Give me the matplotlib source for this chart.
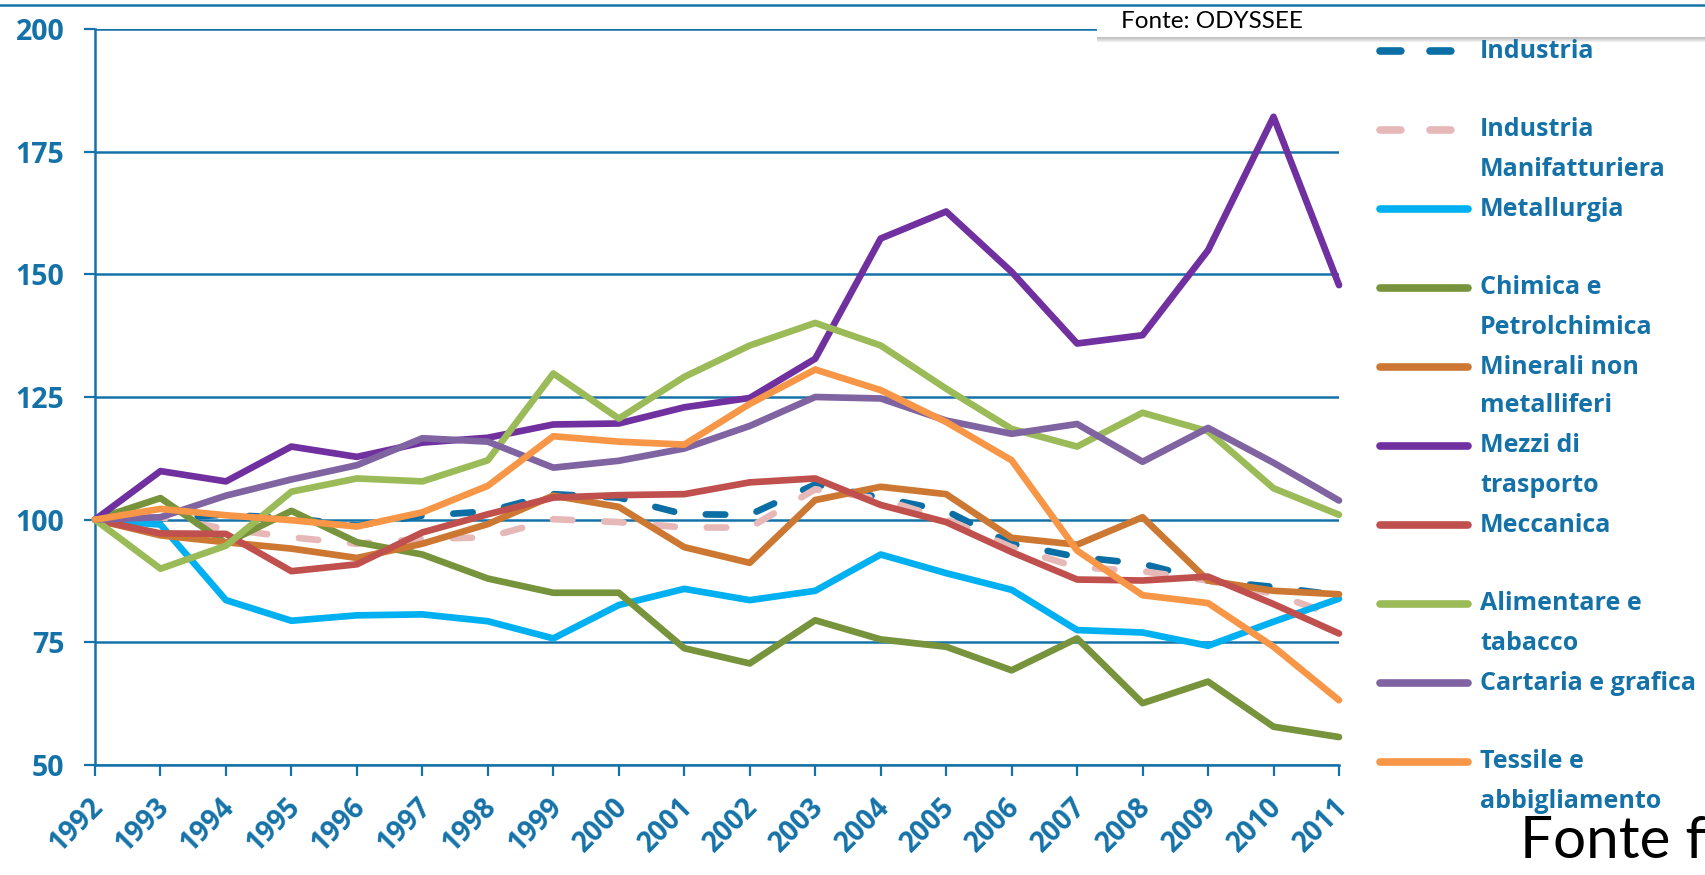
import matplotlib.pyplot as plt
from matplotlib.lines import Line2D
from matplotlib.patches import Rectangle
from matplotlib.transforms import ScaledTranslation

plt.rcParams['font.family'] = ['Open Sans', 'DejaVu Sans']
plt.rcParams['lines.scale_dashes'] = False

W, H = 1706, 875
BLU = '#1572A8'

anni = list(range(1992, 2012))

industria = [100, 100.3, 101.0, 100.3, 98.8, 100.8, 101.7, 105.2, 104.5, 101.1,
             101.0, 107.2, 104.5, 101.8, 95.1, 92.4, 91.0, 87.6, 86.3, 84.6]
manifatturiera = [100, 100.5, 98.1, 96.4, 95.1, 96.1, 96.4, 100.1, 99.5, 98.4,
                  98.4, 106.2, 104.2, 100.1, 94.4, 90.3, 89.5, 87.6, 84.9, 80.2]
metallurgia = [100, 99.0, 83.6, 79.4, 80.5, 80.7, 79.3, 75.8, 82.6, 85.9,
               83.6, 85.5, 92.9, 89.1, 85.7, 77.5, 77.0, 74.3, 79.2, 83.9]
chimica = [100, 104.4, 95.2, 101.8, 95.4, 92.9, 88.0, 85.1, 85.1, 73.8,
           70.7, 79.5, 75.6, 74.1, 69.3, 75.8, 62.6, 67.0, 57.8, 55.7]
minerali = [100, 96.8, 95.4, 94.1, 92.2, 95.1, 99.1, 104.9, 102.6, 94.4,
            91.2, 104.0, 106.7, 105.2, 96.3, 94.9, 100.5, 87.6, 85.5, 84.8]
mezzi = [100, 109.9, 107.8, 114.9, 112.8, 115.7, 116.7, 119.4, 119.6, 122.9,
         124.8, 132.8, 157.3, 162.8, 150.5, 135.9, 137.6, 154.9, 182.1, 147.8]
meccanica = [100, 97.2, 97.1, 89.5, 90.9, 97.4, 101.1, 104.5, 105.0, 105.2,
             107.6, 108.4, 103.0, 99.5, 93.4, 87.8, 87.6, 88.4, 82.8, 76.8]
alimentare = [100, 90.0, 94.7, 105.7, 108.4, 107.8, 112.1, 129.8, 120.6, 129.1,
              135.5, 140.1, 135.5, 126.7, 118.5, 114.9, 121.8, 118.0, 106.4, 101.0]
cartaria = [100, 100.5, 104.9, 108.2, 111.1, 116.6, 115.9, 110.6, 112.0, 114.5,
            119.1, 125.0, 124.7, 120.2, 117.5, 119.5, 111.8, 118.7, 111.6, 103.9]
tessile = [100, 102.2, 100.9, 99.9, 98.6, 101.5, 106.9, 117.0, 115.9, 115.3,
           123.6, 130.6, 126.4, 119.9, 112.1, 93.7, 84.6, 83.0, 74.1, 63.2]

serie = [industria, manifatturiera, metallurgia, chimica, minerali,
         mezzi, meccanica, alimentare, cartaria, tessile]
etichette = ['Industria', 'Industria\nManifatturiera', 'Metallurgia',
             'Chimica e\nPetrolchimica', 'Minerali non\nmetalliferi',
             'Mezzi di\ntrasporto', 'Meccanica', 'Alimentare e\ntabacco',
             'Cartaria e grafica', 'Tessile e\nabbigliamento']
colori = ['#0B6FA6', '#E6B9B8', '#00B0F0', '#77933C', '#CC7832',
          '#7030A0', '#C0504D', '#9BBB59', '#8064A2', '#F79646']
tratteggio = [True, True, False, False, False, False, False, False, False, False]

yticks = [50, 75, 100, 125, 150, 175, 200]

fig = plt.figure(figsize=(W / 100, H / 100), dpi=100)
ax = fig.add_axes([95 / W, 1 - 765 / H, (1339 - 95) / W, (765 - 29) / H])

for s, c, d in zip(serie, colori, tratteggio):
    if d:
        ax.plot(anni, s, color=c, lw=4.8, dashes=(14, 23),
                dash_capstyle='round', clip_on=False, zorder=3)
    else:
        ax.plot(anni, s, color=c, lw=4.8, solid_capstyle='round',
                clip_on=False, zorder=3)

ax.set_xlim(1992, 2011)
ax.set_ylim(50, 200)
ax.set_xticks(anni, [str(a) for a in anni], rotation=45, ha='right', va='top',
              rotation_mode='anchor', fontweight='bold', fontsize=20)
ax.set_yticks(yticks, [str(v) for v in yticks], fontweight='bold', fontsize=20.5)
ax.grid(axis='y', color=BLU, lw=1.8, zorder=1)
ax.set_axisbelow(True)
for lato in ['top', 'right']:
    ax.spines[lato].set_visible(False)
for lato in ['left', 'bottom']:
    ax.spines[lato].set_color(BLU)
    ax.spines[lato].set_linewidth(1.8)
ax.tick_params(axis='both', colors=BLU, length=8, width=1.6)
ax.tick_params(axis='y', pad=14)
ax.tick_params(axis='x', pad=12)
# sposto le etichette degli anni un poco a sinistra
sposta = ScaledTranslation(-0.06, 0, fig.dpi_scale_trans)
for t in ax.get_xticklabels():
    t.set_transform(t.get_transform() + sposta)

# legenda disegnata a mano
for i, (lab, c, d) in enumerate(zip(etichette, colori, tratteggio)):
    y = 51 + i * 79
    if d:
        h = Line2D([1380 / W, 1463 / W], [1 - y / H, 1 - y / H], color=c, lw=5.5,
                   dashes=(15, 21), dash_capstyle='round', transform=fig.transFigure)
    else:
        h = Line2D([1380 / W, 1468 / W], [1 - y / H, 1 - y / H], color=c, lw=5.5,
                   solid_capstyle='round', transform=fig.transFigure)
    fig.add_artist(h)
    for j, riga in enumerate(lab.split('\n')):
        fig.text(1480 / W, 1 - (y + j * 39) / H, riga, color=BLU, fontsize=18,
                 fontweight='bold', va='center', ha='left')

# riga blu in alto e riquadro fonte
fig.add_artist(Line2D([0, 1], [1 - 5 / H, 1 - 5 / H], color=BLU, lw=1.8,
                      transform=fig.transFigure))
for k in range(1, 6):
    fig.add_artist(Rectangle((1097 / W, 1 - (37 + k) / H), 620 / W, 40 / H,
                             transform=fig.transFigure, color='#808080',
                             alpha=0.12, lw=0))
fig.add_artist(Rectangle((1097 / W, 1 - 37 / H), 620 / W, 37 / H,
                         transform=fig.transFigure, facecolor='white', lw=0))
fig.text(1121 / W, 1 - 22 / H, 'Fonte: ODYSSEE', fontsize=17.5, color='black',
         va='center', ha='left', family=['Lato', 'DejaVu Sans'])
fig.text(1520 / W, 1 - 842 / H, 'Fonte f', fontsize=42, color='black',
         va='center', ha='left', family=['Lato', 'DejaVu Sans'])

fig.savefig('out.png', dpi=100)
